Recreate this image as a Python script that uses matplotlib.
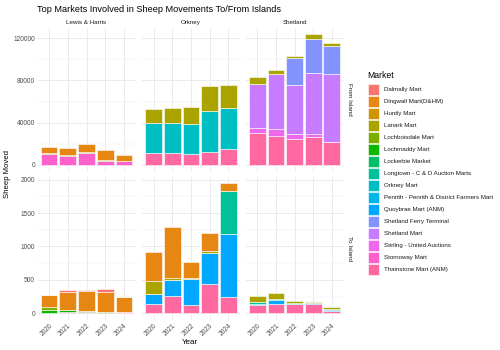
import numpy as np
import matplotlib.pyplot as plt
from matplotlib.patches import Rectangle
from matplotlib.ticker import MultipleLocator

plt.rcParams['font.family'] = ['Liberation Sans', 'DejaVu Sans']

years = ['2020', '2021', '2022', '2023', '2024']
islands = ['Lewis & Harris', 'Orkney', 'Shetland']
directions = ['From Island', 'To Island']

markets = ['Dalmally Mart', 'Dingwall Mart(D&HM)', 'Huntly Mart', 'Lanark Mart',
           'Lochboisdale Mart', 'Lochmaddy Mart', 'Lockerbie Market',
           'Longtown - C & D Auction Marts', 'Orkney Mart',
           'Penrith - Penrith & District Farmers Mart', 'Quoybrae Mart (ANM)',
           'Shetland Ferry Terminal', 'Shetland Mart', 'Stirling - United Auctions',
           'Stornoway Mart', 'Thainstone Mart (ANM)']
colours = ['#F8766D', '#E68613', '#CD9600', '#ABA300', '#7CAE00', '#0CB702',
           '#00BE67', '#00C19A', '#00BFC4', '#00B8E7', '#00A9FF', '#8494FF',
           '#C77CFF', '#ED68ED', '#FF61CC', '#FF68A1']

# sheep moved per market, 2020-2024
lewis_from = {
    'Stornoway Mart': [10100, 8800, 11000, 3800, 3800],
    'Lochboisdale Mart': [800, 700, 800, 900, 0],
    'Dingwall Mart(D&HM)': [6400, 6250, 7700, 9200, 6000],
}
orkney_from = {
    'Thainstone Mart (ANM)': [11700, 11000, 10400, 12600, 14800],
    'Orkney Mart': [27700, 29000, 28600, 38400, 38700],
    'Lanark Mart': [13500, 14200, 15500, 23700, 21800],
}
shetland_from = {
    'Thainstone Mart (ANM)': [29900, 27400, 24900, 26500, 21700],
    'Stirling - United Auctions': [5400, 6300, 4100, 2500, 0],
    'Shetland Mart': [41200, 52600, 46900, 57900, 64300],
    'Shetland Ferry Terminal': [0, 0, 24900, 32500, 26500],
    'Lanark Mart': [6300, 3200, 2500, 4100, 3100],
}
lewis_to = {
    'Stornoway Mart': [10, 25, 15, 10, 15],
    'Lochmaddy Mart': [40, 25, 25, 15, 0],
    'Lochboisdale Mart': [50, 0, 0, 0, 0],
    'Dingwall Mart(D&HM)': [167, 272, 292, 297, 223],
    'Dalmally Mart': [0, 25, 10, 40, 0],
}
orkney_to = {
    'Thainstone Mart (ANM)': [144, 262, 124, 436, 243],
    'Quoybrae Mart (ANM)': [149, 238, 391, 460, 950],
    'Longtown - C & D Auction Marts': [0, 0, 0, 0, 639],
    'Lochboisdale Mart': [0, 0, 15, 0, 0],
    'Lanark Mart': [183, 30, 0, 30, 0],
    'Dingwall Mart(D&HM)': [445, 762, 238, 277, 114],
}
shetland_to = {
    'Thainstone Mart (ANM)': [124, 144, 144, 139, 30],
    'Quoybrae Mart (ANM)': [20, 50, 0, 15, 25],
    'Longtown - C & D Auction Marts': [30, 20, 15, 0, 15],
    'Lanark Mart': [79, 94, 20, 10, 20],
}

panels = [[lewis_from, orkney_from, shetland_from],
          [lewis_to, orkney_to, shetland_to]]

W, H = 500, 350
fig = plt.figure(figsize=(5, 3.5), dpi=100)

col_x = [(37.8, 135.2), (142.3, 239.7), (246.3, 343.0)]
row_y = [(27.8, 171.5), (176.7, 319.8)]
row_major = [40000, 500]
grid_col = '#EBEBEB'
tick_col = '#4D4D4D'
fs = 4.8


def box(x0, x1, y0, y1):
    return [x0 / W, 1 - y1 / H, (x1 - x0) / W, (y1 - y0) / H]


x = np.arange(len(years))
for r in range(2):
    top = max(np.sum(list(p.values()), axis=0).max() for p in panels[r])
    for c in range(3):
        ax = fig.add_axes(box(*col_x[c], *row_y[r]))
        data = panels[r][c]
        bottom = np.zeros(len(years))
        for m, col in reversed(list(zip(markets, colours))):
            if m not in data:
                continue
            vals = np.array(data[m], dtype=float)
            ax.bar(x, vals, 0.9, bottom=bottom, color=col,
                   edgecolor='white', linewidth=0.4, zorder=3)
            bottom += vals
        ax.set_xlim(-0.6, len(years) - 0.4)
        ax.set_ylim(-0.05 * top, 1.05 * top)
        ax.yaxis.set_major_locator(MultipleLocator(row_major[r]))
        ax.yaxis.set_minor_locator(MultipleLocator(row_major[r] / 2))
        ax.set_xticks(x)
        ax.grid(True, which='major', color=grid_col, linewidth=0.7, zorder=0)
        ax.grid(True, which='minor', axis='y', color=grid_col, linewidth=0.35, zorder=0)
        for s in ax.spines.values():
            s.set_visible(False)
        ax.tick_params(which='both', length=0, labelsize=fs, labelcolor=tick_col, pad=2)
        if c > 0:
            ax.set_yticklabels([])
        if r == 0:
            ax.set_xticklabels([])
            fig.text((col_x[c][0] + col_x[c][1]) / 2 / W, 1 - 22.5 / H, islands[c],
                     ha='center', va='center', fontsize=4.5, color='#1A1A1A')
        else:
            ax.set_xticklabels(years, rotation=45, ha='right', rotation_mode='anchor')
    fig.text(350 / W, 1 - (row_y[r][0] + row_y[r][1]) / 2 / H, directions[r],
             rotation=-90, ha='center', va='center', fontsize=4.5, color='#1A1A1A')

fig.text(37 / W, 1 - 9 / H, 'Top Markets Involved in Sheep Movements To/From Islands',
         ha='left', va='center', fontsize=6.6, color='black')
fig.text(8 / W, 1 - 174 / H, 'Sheep Moved', rotation=90, ha='center', va='center',
         fontsize=5.6, color='black')
fig.text(190 / W, 1 - 342 / H, 'Year', ha='center', va='center', fontsize=5.8,
         color='black')

# legend, drawn by hand to match the ggplot key layout
fig.text(367.5 / W, 1 - 76 / H, 'Market', ha='left', va='center', fontsize=6.2,
         color='black')
for i, (m, col) in enumerate(zip(markets, colours)):
    yc = 89.3 + 12 * i
    fig.patches.append(Rectangle((368 / W, 1 - (yc + 5.3) / H), 11 / W, 10.6 / H,
                                 transform=fig.transFigure, facecolor=col,
                                 edgecolor='white', linewidth=0.4))
    fig.text(384 / W, 1 - yc / H, m, ha='left', va='center', fontsize=4.4,
             color='#1A1A1A')

fig.savefig('out.png', dpi=100)
